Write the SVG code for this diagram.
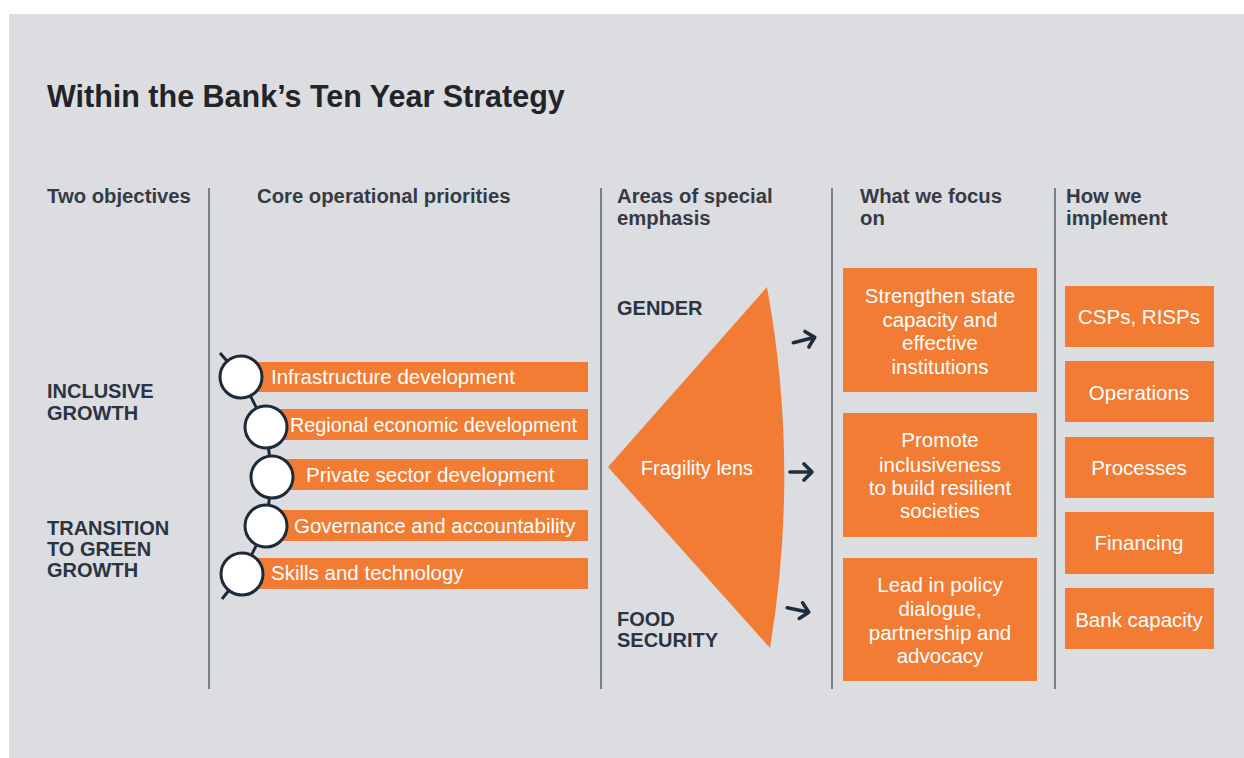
<svg xmlns="http://www.w3.org/2000/svg" width="1244" height="758" viewBox="0 0 1244 758">
<style>
.bg{fill:#dcdde1}
.sep{stroke:#78808a;stroke-width:2}
.or{fill:#f27c33}
.title{font-family:"Liberation Sans",Arial,sans-serif;font-weight:bold;font-size:30.5px;fill:#222428}
.hd{font-family:"Liberation Sans",Arial,sans-serif;font-weight:bold;font-size:20.3px;fill:#353b44}
.lb{font-family:"Liberation Sans",Arial,sans-serif;font-weight:bold;font-size:20px;fill:#2a3442}
.wt{font-family:"Liberation Sans",Arial,sans-serif;font-size:20.5px;fill:#ffffff}
.wc{font-family:"Liberation Sans",Arial,sans-serif;font-size:20.5px;fill:#ffffff;text-anchor:middle}
.chain{fill:none;stroke:#1c2b3a;stroke-width:3}
.circ{fill:#ffffff;stroke:#1c2b3a;stroke-width:3}
.arr{fill:none;stroke:#1f2d3d;stroke-width:3.6;stroke-linecap:round;stroke-linejoin:round}
</style>
<defs>
<path id="arrowShape" d="M-11,0 L11,0 M3,-8 L11,0 L3,8"/>
</defs>
<rect x="0" y="0" width="1244" height="758" fill="#ffffff"/>
<rect class="bg" x="9" y="14" width="1235" height="744"/>
<text class="title" x="47" y="107">Within the Bank’s Ten Year Strategy</text>

<g id="separators">
<line class="sep" x1="209" y1="188" x2="209" y2="689"/>
<line class="sep" x1="601" y1="188" x2="601" y2="689"/>
<line class="sep" x1="832" y1="188" x2="832" y2="689"/>
<line class="sep" x1="1055" y1="188" x2="1055" y2="689"/>
</g>

<g id="headers">
<text class="hd" x="47" y="203">Two objectives</text>
<text class="hd" x="257" y="203">Core operational priorities</text>
<text class="hd" x="617" y="203">Areas of special</text>
<text class="hd" x="617" y="225">emphasis</text>
<text class="hd" x="860" y="203">What we focus</text>
<text class="hd" x="860" y="225">on</text>
<text class="hd" x="1066" y="203">How we</text>
<text class="hd" x="1066" y="225">implement</text>
</g>

<g id="objectives">
<text class="lb" x="47" y="398">INCLUSIVE</text>
<text class="lb" x="47" y="420">GROWTH</text>
<text class="lb" x="47" y="535">TRANSITION</text>
<text class="lb" x="47" y="556">TO GREEN</text>
<text class="lb" x="47" y="577">GROWTH</text>
</g>

<g id="priority-bars">
<rect class="or" x="241" y="362" width="347" height="30"/>
<rect class="or" x="266" y="409" width="322" height="31"/>
<rect class="or" x="272" y="459" width="316" height="31"/>
<rect class="or" x="266" y="510" width="322" height="31"/>
<rect class="or" x="242" y="558" width="346" height="31"/>
</g>

<g id="connectors">
<polyline class="chain" points="220,353 241,377 266,427 272,477 266,526 242,574 222,599"/>
<use href="#arrowShape" class="arr" transform="translate(804,340) rotate(-14)"/>
<use href="#arrowShape" class="arr" transform="translate(801,472)"/>
<use href="#arrowShape" class="arr" transform="translate(798,610) rotate(12)"/>
</g>

<g id="priority-circles">
<circle class="circ" cx="241" cy="377" r="21"/>
<circle class="circ" cx="266" cy="427" r="21"/>
<circle class="circ" cx="272" cy="477" r="21"/>
<circle class="circ" cx="266" cy="526" r="21"/>
<circle class="circ" cx="242" cy="574" r="21"/>
</g>

<g id="priority-labels">
<text class="wt" x="271" y="384">Infrastructure development</text>
<text class="wt" x="290" y="432" style="font-size:19.8px">Regional economic development</text>
<text class="wt" x="306" y="482">Private sector development</text>
<text class="wt" x="294" y="533">Governance and accountability</text>
<text class="wt" x="271" y="580">Skills and technology</text>
</g>

<g id="fragility-lens">
<path class="or" d="M608,467 L767,287 Q800,467 770,648 Z"/>
<text class="wc" x="697" y="475" style="font-size:20px">Fragility lens</text>
</g>
<g id="special-emphasis">
<text class="lb" x="617" y="315">GENDER</text>
<text class="lb" x="617" y="626">FOOD</text>
<text class="lb" x="617" y="647">SECURITY</text>
</g>

<g id="focus-1">
<rect class="or" x="843" y="268" width="194" height="124"/>
<text class="wc" x="940" y="303">Strengthen state</text>
<text class="wc" x="940" y="327">capacity and</text>
<text class="wc" x="940" y="350">effective</text>
<text class="wc" x="940" y="374">institutions</text>
</g>
<g id="focus-2">
<rect class="or" x="843" y="413" width="194" height="124"/>
<text class="wc" x="940" y="447">Promote</text>
<text class="wc" x="940" y="472">inclusiveness</text>
<text class="wc" x="940" y="495">to build resilient</text>
<text class="wc" x="940" y="518">societies</text>
</g>
<g id="focus-3">
<rect class="or" x="843" y="558" width="194" height="123"/>
<text class="wc" x="940" y="592">Lead in policy</text>
<text class="wc" x="940" y="616">dialogue,</text>
<text class="wc" x="940" y="640">partnership and</text>
<text class="wc" x="940" y="663">advocacy</text>
</g>

<g id="impl-1">
<rect class="or" x="1065" y="286" width="149" height="61"/>
<text class="wc" x="1139" y="324">CSPs, RISPs</text>
</g>
<g id="impl-2">
<rect class="or" x="1065" y="361" width="149" height="61"/>
<text class="wc" x="1139" y="400">Operations</text>
</g>
<g id="impl-3">
<rect class="or" x="1065" y="437" width="149" height="61"/>
<text class="wc" x="1139" y="475">Processes</text>
</g>
<g id="impl-4">
<rect class="or" x="1065" y="512" width="149" height="62"/>
<text class="wc" x="1139" y="550">Financing</text>
</g>
<g id="impl-5">
<rect class="or" x="1065" y="588" width="149" height="61"/>
<text class="wc" x="1139" y="627">Bank capacity</text>
</g>
</svg>
